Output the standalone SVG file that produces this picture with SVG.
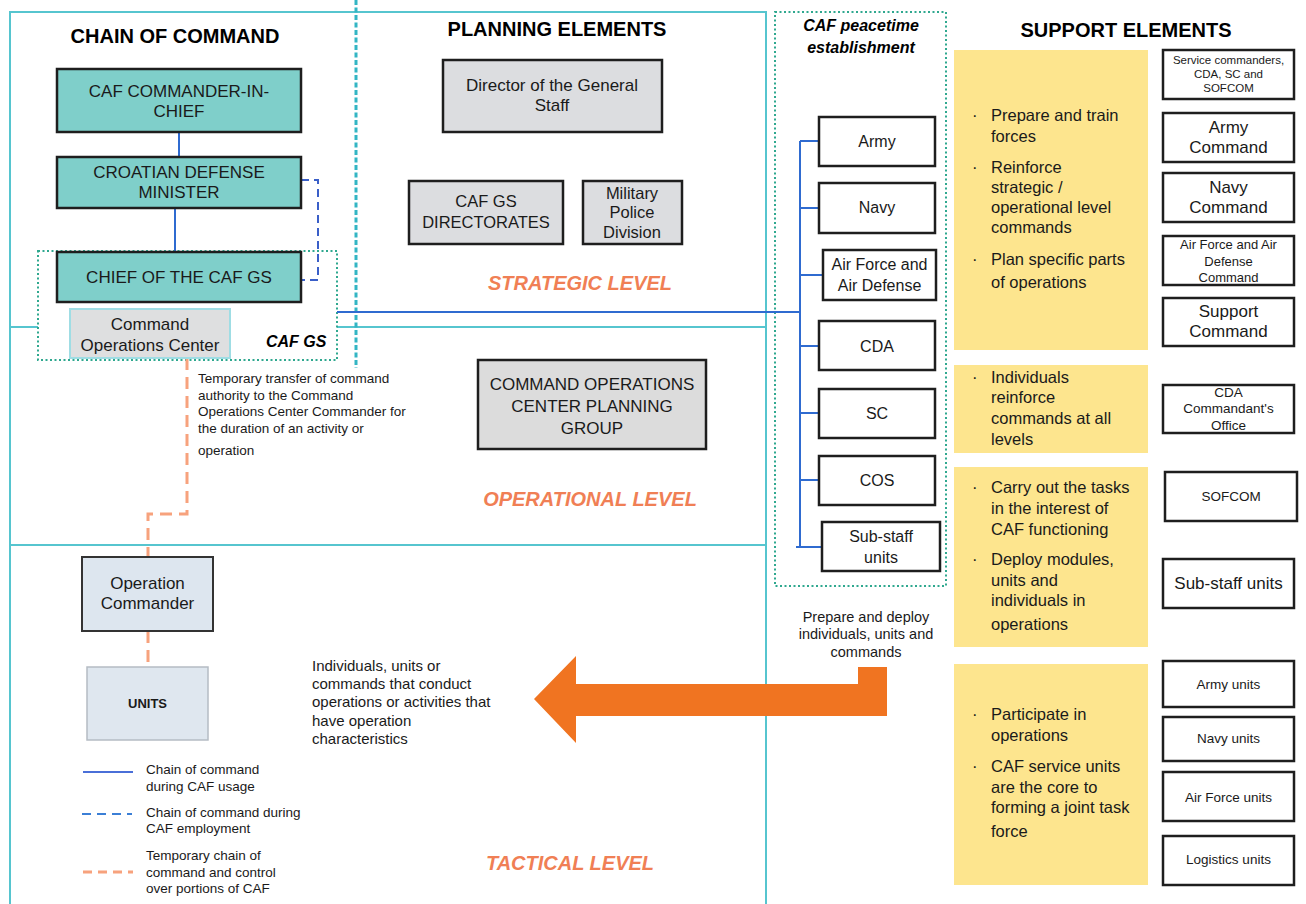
<svg xmlns="http://www.w3.org/2000/svg" width="1306" height="904" viewBox="0 0 1306 904">
<style>
text{font-family:"Liberation Sans",Arial,sans-serif;fill:#1a1a1a}
.title{font-size:20px;font-weight:bold;text-anchor:middle;fill:#000}
.c{text-anchor:middle}
.f17{font-size:17px}
.f16{font-size:16px}
.f13{font-size:13.5px}
.lvl{font-size:20px;font-weight:bold;font-style:italic;fill:#f07f55;text-anchor:middle}
.bi{font-weight:bold;font-style:italic;font-size:16px;fill:#000}
.teal{fill:#7fcfca;stroke:#1e1e1e;stroke-width:2.5}
.gray{fill:#dcdde0;stroke:#1e1e1e;stroke-width:2.5}
.wbox{fill:#fff;stroke:#1e1e1e;stroke-width:2.5}
.yel{fill:#fde58e}
.frame{stroke:#56c5cf;stroke-width:2;fill:none}
.dot{fill:none;stroke:#2fa88f;stroke-width:2;stroke-dasharray:2 2.5}
.blue{stroke:#2f6bd0;stroke-width:2;fill:none}
.bdash{stroke:#3a5fc8;stroke-width:2;fill:none;stroke-dasharray:8 5}
.odash{stroke:#f7a27d;stroke-width:3;fill:none;stroke-dasharray:12 7}
.sup{font-size:16.5px}
</style>

<!-- frames -->
<g id="frames">
<path class="frame" d="M10,904 V12 H766 V904"/>
<path class="frame" d="M10,327 H38 M337,327 H766"/>
<path class="frame" d="M10,545 H766"/>
<line x1="356" y1="0" x2="356" y2="368" stroke="#33b5c4" stroke-width="3" stroke-dasharray="5 2.5"/>
<rect class="dot" x="38" y="251" width="299" height="109"/>
<rect class="dot" x="775" y="12" width="171" height="574"/>
</g>

<!-- titles and level labels -->
<g id="labels">
<text class="title" x="175" y="43">CHAIN OF COMMAND</text>
<text class="title" x="557" y="36">PLANNING ELEMENTS</text>
<text class="title" x="1126" y="37">SUPPORT ELEMENTS</text>
<text class="bi c" x="861" y="31">CAF peacetime</text>
<text class="bi c" x="861" y="53">establishment</text>
<text class="bi" x="266" y="347">CAF GS</text>
<text class="lvl" x="580" y="290">STRATEGIC LEVEL</text>
<text class="lvl" x="590" y="506">OPERATIONAL LEVEL</text>
<text class="lvl" x="570" y="870">TACTICAL LEVEL</text>
<g class="f13">
<text x="198" y="383">Temporary transfer of command</text>
<text x="198" y="399.5">authority to the Command</text>
<text x="198" y="416">Operations Center Commander for</text>
<text x="198" y="432.5">the duration of an activity or</text>
<text x="198" y="455">operation</text>
</g>
<g style="font-size:15px">
<text x="312" y="671">Individuals, units or</text>
<text x="312" y="689">commands that conduct</text>
<text x="312" y="707">operations or activities that</text>
<text x="312" y="726">have operation</text>
<text x="312" y="744">characteristics</text>
</g>
<g class="c" style="font-size:14.5px">
<text x="866" y="622">Prepare and deploy</text>
<text x="866" y="639">individuals, units and</text>
<text x="866" y="657">commands</text>
</g>
</g>

<!-- connectors -->
<g id="connectors">
<line class="blue" x1="179" y1="132" x2="179" y2="157"/>
<line class="blue" x1="175" y1="208" x2="175" y2="252"/>
<path class="bdash" d="M301,180 H318 V280 H301"/>
<path class="blue" d="M337,312 H800 M800,141 V547 M800,141 H819 M800,208 H819 M800,275 H823 M800,346 H819 M800,413 H819 M800,480 H819 M796,547 H822"/>
<path class="odash" d="M187,358 V514 H148 V557"/>
<path class="odash" d="M148,631 V667"/>
<path d="M534,699 L576,656 L576,684 L858,684 L858,667 L887,667 L887,716 L576,716 L576,743 Z" fill="#f07421"/>
</g>

<!-- chain of command nodes -->
<g id="n-cinc"><rect class="teal" x="57" y="69" width="244" height="63"/>
<text class="c f17" x="179" y="97">CAF COMMANDER-IN-</text><text class="c f17" x="179" y="117">CHIEF</text></g>
<g id="n-minister"><rect class="teal" x="57" y="157" width="244" height="51"/>
<text class="c f17" x="179" y="178">CROATIAN DEFENSE</text><text class="c f17" x="179" y="198">MINISTER</text></g>
<g id="n-chief"><rect class="teal" x="57" y="252" width="244" height="50"/>
<text class="c f17" x="179" y="283">CHIEF OF THE CAF GS</text></g>
<g id="n-coc"><rect x="70" y="309" width="160" height="49" fill="#dedfe0" stroke="#9fdde4" stroke-width="2"/>
<text class="c f17" x="150" y="330">Command</text><text class="c f17" x="150" y="351">Operations Center</text></g>
<g id="n-opcmd"><rect x="82" y="557" width="131" height="74" fill="#dde6ef" stroke="#333" stroke-width="2"/>
<text class="c f17" x="147.5" y="589">Operation</text><text class="c f17" x="147.5" y="609">Commander</text></g>
<g id="n-units"><rect x="87" y="667" width="121" height="73" fill="#dfe7ef" stroke="#b5bcc4" stroke-width="1.5"/>
<text class="c" x="147.5" y="708" style="font-size:13px;font-weight:bold">UNITS</text></g>

<!-- planning nodes -->
<g id="n-director"><rect class="gray" x="443" y="60" width="219" height="72"/>
<text class="c f17" x="552" y="91">Director of the General</text><text class="c f17" x="552" y="111">Staff</text></g>
<g id="n-directorates"><rect class="gray" x="409" y="181" width="154" height="63"/>
<text class="c" style="font-size:16.5px" x="486" y="207">CAF GS</text><text class="c" style="font-size:16.5px" x="486" y="228">DIRECTORATES</text></g>
<g id="n-mp"><rect class="gray" x="583" y="181" width="99" height="63"/>
<text class="c" style="font-size:16.5px" x="632" y="199">Military</text><text class="c" style="font-size:16.5px" x="632" y="218">Police</text><text class="c" style="font-size:16.5px" x="632" y="238">Division</text></g>
<g id="n-copg"><rect x="478" y="360" width="228" height="89" fill="#dcdcdc" stroke="#1e1e1e" stroke-width="2.5"/>
<text class="c f17" x="592" y="390">COMMAND OPERATIONS</text><text class="c f17" x="592" y="412">CENTER PLANNING</text><text class="c f17" x="592" y="434">GROUP</text></g>

<!-- peacetime establishment -->
<g id="n-army"><rect class="wbox" x="819" y="117" width="116" height="49"/><text class="c f16" x="877" y="147">Army</text></g>
<g id="n-navy"><rect class="wbox" x="819" y="183" width="116" height="50"/><text class="c f16" x="877" y="213">Navy</text></g>
<g id="n-af"><rect class="wbox" x="823" y="250" width="113" height="50"/><text class="c f16" x="879.5" y="270">Air Force and</text><text class="c f16" x="879.5" y="291">Air Defense</text></g>
<g id="n-cda"><rect class="wbox" x="819" y="321" width="116" height="49"/><text class="c f16" x="877" y="352">CDA</text></g>
<g id="n-sc"><rect class="wbox" x="819" y="389" width="116" height="49"/><text class="c f16" x="877" y="419">SC</text></g>
<g id="n-cos"><rect class="wbox" x="819" y="456" width="116" height="49"/><text class="c f16" x="877" y="486">COS</text></g>
<g id="n-substaff"><rect class="wbox" x="822" y="522" width="118" height="49"/><text class="c f16" x="881" y="542">Sub-staff</text><text class="c f16" x="881" y="563">units</text></g>

<!-- support elements -->
<g id="s-block1"><rect class="yel" x="954" y="50" width="194" height="300"/>
<g class="sup">
<text x="972" y="121">·</text><text x="991" y="121">Prepare and train</text><text x="991" y="142">forces</text>
<text x="972" y="173">·</text><text x="991" y="173">Reinforce</text><text x="991" y="193">strategic /</text><text x="991" y="213">operational level</text><text x="991" y="233">commands</text>
<text x="972" y="265">·</text><text x="991" y="265">Plan specific parts</text><text x="991" y="288">of operations</text>
</g></g>
<g id="s-block2"><rect class="yel" x="954" y="365" width="194" height="88"/>
<g class="sup"><text x="972" y="383">·</text><text x="991" y="383">Individuals</text><text x="991" y="403">reinforce</text><text x="991" y="424">commands at all</text><text x="991" y="445">levels</text></g></g>
<g id="s-block3"><rect class="yel" x="954" y="467" width="194" height="180"/>
<g class="sup"><text x="972" y="493">·</text><text x="991" y="493">Carry out the tasks</text><text x="991" y="514">in the interest of</text><text x="991" y="535">CAF functioning</text>
<text x="972" y="565">·</text><text x="991" y="565">Deploy modules,</text><text x="991" y="586">units and</text><text x="991" y="606">individuals in</text><text x="991" y="630">operations</text></g></g>
<g id="s-block4"><rect class="yel" x="954" y="664" width="194" height="221"/>
<g class="sup"><text x="972" y="720">·</text><text x="991" y="720">Participate in</text><text x="991" y="741">operations</text>
<text x="972" y="772">·</text><text x="991" y="772">CAF service units</text><text x="991" y="793">are the core to</text><text x="991" y="813">forming a joint task</text><text x="991" y="837">force</text></g></g>

<g id="s-service"><rect class="wbox" x="1163" y="50" width="131" height="49"/>
<text class="c" style="font-size:11.5px" x="1228.5" y="64">Service commanders,</text><text class="c" style="font-size:11.5px" x="1228.5" y="78">CDA, SC and</text><text class="c" style="font-size:11.5px" x="1228.5" y="92">SOFCOM</text></g>
<g id="s-armycmd"><rect class="wbox" x="1163" y="113" width="131" height="49"/><text class="c f17" x="1228.5" y="133">Army</text><text class="c f17" x="1228.5" y="153">Command</text></g>
<g id="s-navycmd"><rect class="wbox" x="1163" y="173" width="131" height="49"/><text class="c f17" x="1228.5" y="193">Navy</text><text class="c f17" x="1228.5" y="213">Command</text></g>
<g id="s-afcmd"><rect class="wbox" x="1163" y="236" width="131" height="49"/>
<text class="c" style="font-size:13px" x="1228.5" y="249">Air Force and Air</text><text class="c" style="font-size:13px" x="1228.5" y="266">Defense</text><text class="c" style="font-size:13px" x="1228.5" y="282">Command</text></g>
<g id="s-supcmd"><rect class="wbox" x="1163" y="298" width="131" height="48"/><text class="c f17" x="1228.5" y="317">Support</text><text class="c f17" x="1228.5" y="337">Command</text></g>
<g id="s-cdaoff"><rect class="wbox" x="1163" y="385" width="131" height="48"/>
<text class="c f13" x="1228.5" y="397">CDA</text><text class="c f13" x="1228.5" y="413">Commandant's</text><text class="c f13" x="1228.5" y="430">Office</text></g>
<g id="s-sofcom"><rect class="wbox" x="1165" y="472" width="132" height="49"/><text class="c f13" x="1231" y="501">SOFCOM</text></g>
<g id="s-substaff"><rect class="wbox" x="1163" y="559" width="131" height="49"/><text class="c f17" x="1228.5" y="589">Sub-staff units</text></g>
<g id="s-armyunits"><rect class="wbox" x="1163" y="661" width="131" height="46"/><text class="c f13" x="1228.5" y="689">Army units</text></g>
<g id="s-navyunits"><rect class="wbox" x="1163" y="717" width="131" height="44"/><text class="c f13" x="1228.5" y="743">Navy units</text></g>
<g id="s-afunits"><rect class="wbox" x="1163" y="772" width="131" height="49"/><text class="c f13" x="1228.5" y="802">Air Force units</text></g>
<g id="s-logunits"><rect class="wbox" x="1163" y="836" width="131" height="49"/><text class="c f13" x="1228.5" y="864">Logistics units</text></g>

<!-- legend -->
<g id="legend">
<line x1="83" y1="772" x2="133" y2="772" stroke="#4a6fd8" stroke-width="2"/>
<line x1="82" y1="814" x2="132" y2="814" stroke="#3b7fd6" stroke-width="2" stroke-dasharray="9 6"/>
<line x1="83" y1="872" x2="133" y2="872" stroke="#f7a27d" stroke-width="3" stroke-dasharray="9 6"/>
<g class="f13">
<text x="146" y="774">Chain of command</text><text x="146" y="791">during CAF usage</text>
<text x="146" y="817">Chain of command during</text><text x="146" y="833">CAF employment</text>
<text x="146" y="860">Temporary chain of</text><text x="146" y="877">command and control</text><text x="146" y="893">over portions of CAF</text>
</g>
</g>
</svg>
